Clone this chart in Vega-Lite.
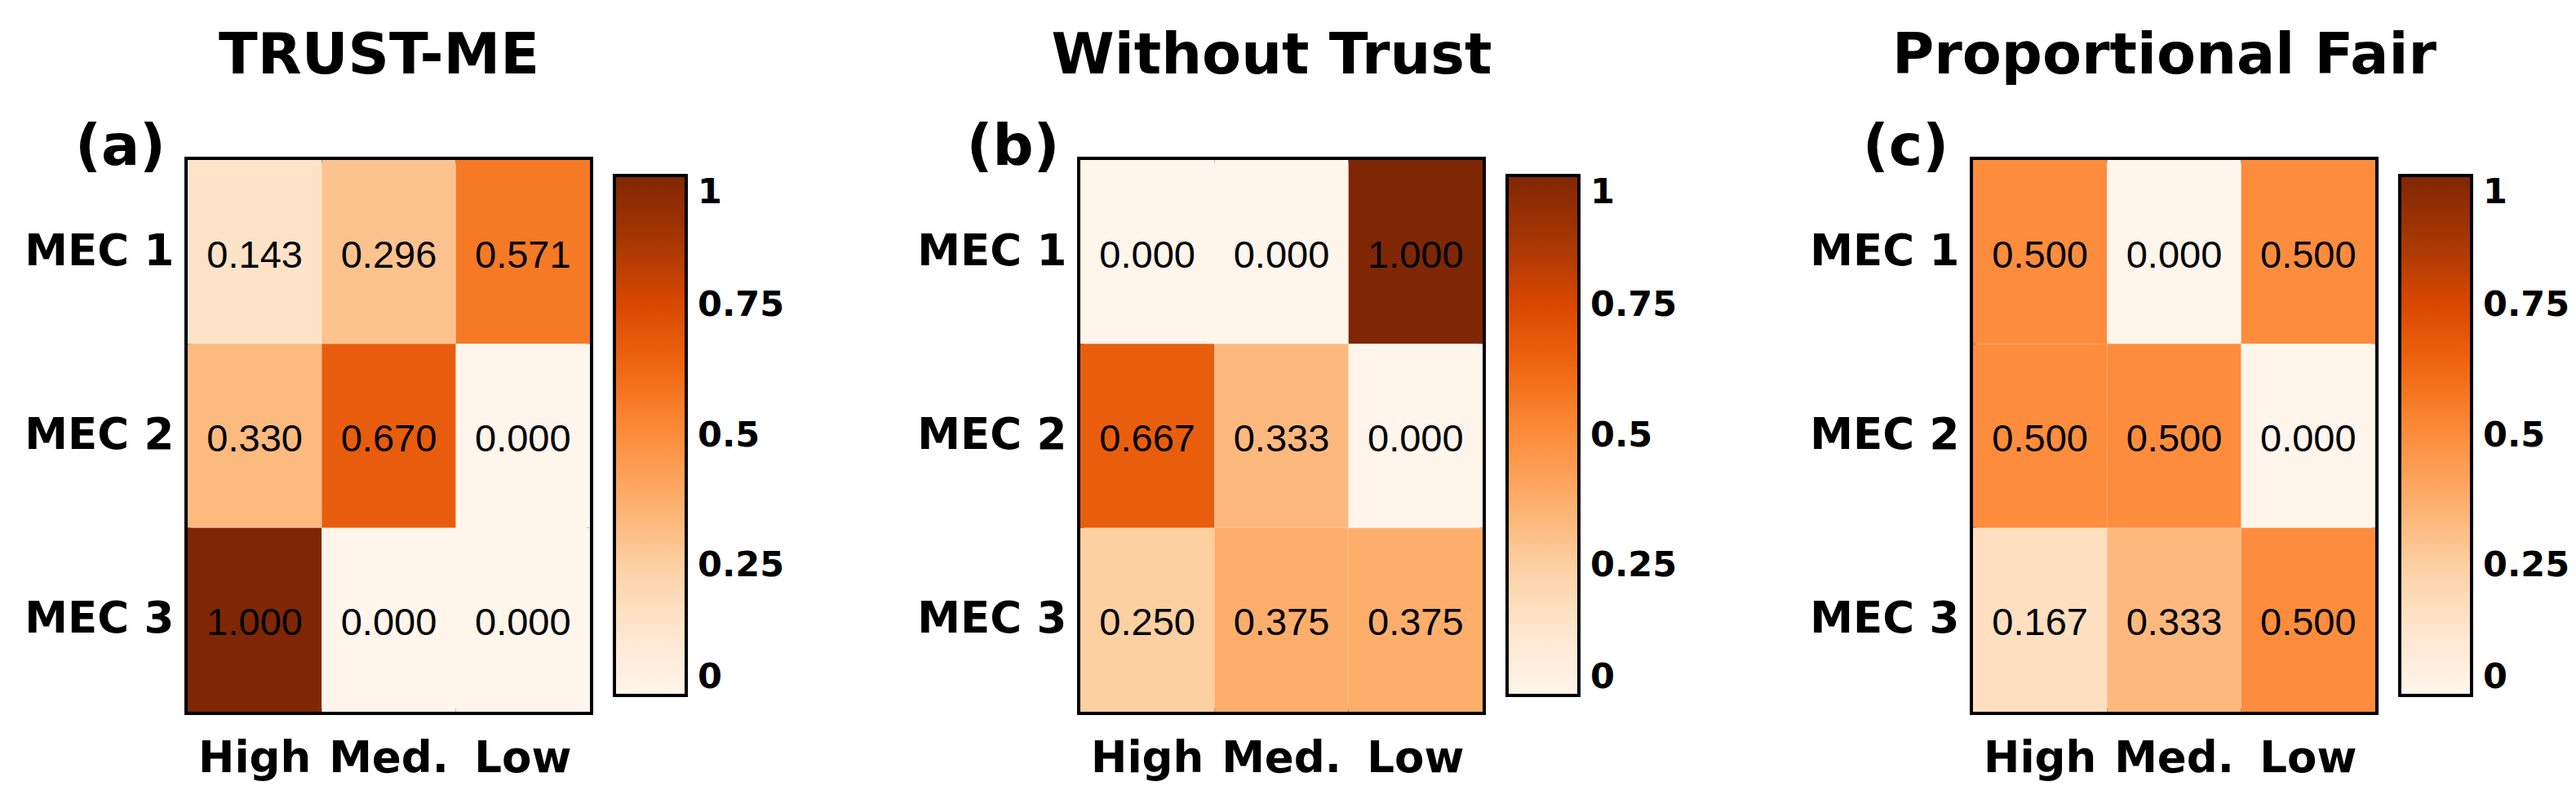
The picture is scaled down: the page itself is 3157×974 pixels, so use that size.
{
  "$schema": "https://vega.github.io/schema/vega-lite/v6.json",
  "padding": {"left": 25, "top": 30, "right": 5, "bottom": 5},
  "background": "white",
  "datasets": {
    "cells": [
      {"panel": "a", "mec": "MEC 1", "level": "High", "value": 0.143},
      {"panel": "a", "mec": "MEC 1", "level": "Med.", "value": 0.296},
      {"panel": "a", "mec": "MEC 1", "level": "Low", "value": 0.571},
      {"panel": "a", "mec": "MEC 2", "level": "High", "value": 0.330},
      {"panel": "a", "mec": "MEC 2", "level": "Med.", "value": 0.670},
      {"panel": "a", "mec": "MEC 2", "level": "Low", "value": 0.000},
      {"panel": "a", "mec": "MEC 3", "level": "High", "value": 1.000},
      {"panel": "a", "mec": "MEC 3", "level": "Med.", "value": 0.000},
      {"panel": "a", "mec": "MEC 3", "level": "Low", "value": 0.000},
      {"panel": "b", "mec": "MEC 1", "level": "High", "value": 0.000},
      {"panel": "b", "mec": "MEC 1", "level": "Med.", "value": 0.000},
      {"panel": "b", "mec": "MEC 1", "level": "Low", "value": 1.000},
      {"panel": "b", "mec": "MEC 2", "level": "High", "value": 0.667},
      {"panel": "b", "mec": "MEC 2", "level": "Med.", "value": 0.333},
      {"panel": "b", "mec": "MEC 2", "level": "Low", "value": 0.000},
      {"panel": "b", "mec": "MEC 3", "level": "High", "value": 0.250},
      {"panel": "b", "mec": "MEC 3", "level": "Med.", "value": 0.375},
      {"panel": "b", "mec": "MEC 3", "level": "Low", "value": 0.375},
      {"panel": "c", "mec": "MEC 1", "level": "High", "value": 0.500},
      {"panel": "c", "mec": "MEC 1", "level": "Med.", "value": 0.000},
      {"panel": "c", "mec": "MEC 1", "level": "Low", "value": 0.500},
      {"panel": "c", "mec": "MEC 2", "level": "High", "value": 0.500},
      {"panel": "c", "mec": "MEC 2", "level": "Med.", "value": 0.500},
      {"panel": "c", "mec": "MEC 2", "level": "Low", "value": 0.000},
      {"panel": "c", "mec": "MEC 3", "level": "High", "value": 0.167},
      {"panel": "c", "mec": "MEC 3", "level": "Med.", "value": 0.333},
      {"panel": "c", "mec": "MEC 3", "level": "Low", "value": 0.500}
    ]
  },
  "bounds": "flush",
  "spacing": 601,
  "resolve": {"scale": {"color": "independent"}, "legend": {"color": "independent"}},
  "hconcat": [
    {
      "title": {"text": "TRUST-ME", "dx": -12},
      "width": 493, "height": 676,
      "data": {"name": "cells"},
      "transform": [{"filter": "datum.panel === 'a'"}],
      "encoding": {
        "x": {"field": "level", "type": "nominal", "sort": ["High", "Med.", "Low"], "scale": {"paddingInner": 0, "paddingOuter": 0}, "axis": {"title": null}},
        "y": {"field": "mec", "type": "nominal", "sort": ["MEC 1", "MEC 2", "MEC 3"], "scale": {"paddingInner": 0, "paddingOuter": 0}, "axis": {"title": "(a)"}}
      },
      "layer": [
        {"mark": {"type": "rect"}, "encoding": {"color": {"field": "value", "type": "quantitative", "scale": {"domain": [0, 0.125, 0.25, 0.375, 0.5, 0.625, 0.75, 0.875, 1], "range": ["#fff5eb", "#fee6ce", "#fdd0a2", "#fdae6b", "#fd8d3c", "#f16913", "#d94801", "#a63603", "#7f2704"], "interpolate": "rgb"}, "legend": {"orient": "none", "legendX": 523, "legendY": 19, "title": null, "direction": "vertical", "values": [0, 0.25, 0.5, 0.75, 1], "labelExpr": "'' + datum.value", "labelOffset": 14}}}},
        {"mark": {"type": "text", "font": "Liberation Sans", "fontSize": 47, "baseline": "middle", "color": "black", "dy": 5}, "encoding": {"text": {"field": "value", "type": "quantitative", "format": ".3f"}}}
      ]
    },
    {
      "title": {"text": "Without Trust", "dx": -12},
      "width": 493, "height": 676,
      "data": {"name": "cells"},
      "transform": [{"filter": "datum.panel === 'b'"}],
      "encoding": {
        "x": {"field": "level", "type": "nominal", "sort": ["High", "Med.", "Low"], "scale": {"paddingInner": 0, "paddingOuter": 0}, "axis": {"title": null}},
        "y": {"field": "mec", "type": "nominal", "sort": ["MEC 1", "MEC 2", "MEC 3"], "scale": {"paddingInner": 0, "paddingOuter": 0}, "axis": {"title": "(b)"}}
      },
      "layer": [
        {"mark": {"type": "rect"}, "encoding": {"color": {"field": "value", "type": "quantitative", "scale": {"domain": [0, 0.125, 0.25, 0.375, 0.5, 0.625, 0.75, 0.875, 1], "range": ["#fff5eb", "#fee6ce", "#fdd0a2", "#fdae6b", "#fd8d3c", "#f16913", "#d94801", "#a63603", "#7f2704"], "interpolate": "rgb"}, "legend": {"orient": "none", "legendX": 523, "legendY": 19, "title": null, "direction": "vertical", "values": [0, 0.25, 0.5, 0.75, 1], "labelExpr": "'' + datum.value", "labelOffset": 14}}}},
        {"mark": {"type": "text", "font": "Liberation Sans", "fontSize": 47, "baseline": "middle", "color": "black", "dy": 5}, "encoding": {"text": {"field": "value", "type": "quantitative", "format": ".3f"}}}
      ]
    },
    {
      "title": {"text": "Proportional Fair", "dx": -12},
      "width": 493, "height": 676,
      "data": {"name": "cells"},
      "transform": [{"filter": "datum.panel === 'c'"}],
      "encoding": {
        "x": {"field": "level", "type": "nominal", "sort": ["High", "Med.", "Low"], "scale": {"paddingInner": 0, "paddingOuter": 0}, "axis": {"title": null}},
        "y": {"field": "mec", "type": "nominal", "sort": ["MEC 1", "MEC 2", "MEC 3"], "scale": {"paddingInner": 0, "paddingOuter": 0}, "axis": {"title": "(c)"}}
      },
      "layer": [
        {"mark": {"type": "rect"}, "encoding": {"color": {"field": "value", "type": "quantitative", "scale": {"domain": [0, 0.125, 0.25, 0.375, 0.5, 0.625, 0.75, 0.875, 1], "range": ["#fff5eb", "#fee6ce", "#fdd0a2", "#fdae6b", "#fd8d3c", "#f16913", "#d94801", "#a63603", "#7f2704"], "interpolate": "rgb"}, "legend": {"orient": "none", "legendX": 523, "legendY": 19, "title": null, "direction": "vertical", "values": [0, 0.25, 0.5, 0.75, 1], "labelExpr": "'' + datum.value", "labelOffset": 14}}}},
        {"mark": {"type": "text", "font": "Liberation Sans", "fontSize": 47, "baseline": "middle", "color": "black", "dy": 5}, "encoding": {"text": {"field": "value", "type": "quantitative", "format": ".3f"}}}
      ]
    }
  ],
  "config": {
    "view": {"stroke": "black", "strokeWidth": 8},
    "font": "DejaVu Sans",
    "axis": {"domain": false, "ticks": false, "tickSize": 0, "grid": false, "labelAngle": 0, "labelLimit": 0, "labelFont": "DejaVu Sans", "labelFontWeight": "bold", "labelFontSize": 53, "labelColor": "black"},
    "axisX": {"labelPadding": 31},
    "axisY": {"labelPadding": 17, "titleAngle": 0, "titleX": -83, "titleY": 5, "titleAlign": "center", "titleBaseline": "alphabetic", "titleFont": "DejaVu Sans", "titleFontSize": 70, "titleFontWeight": "bold", "titleColor": "black"},
    "title": {"font": "DejaVu Sans", "fontSize": 70, "fontWeight": "bold", "color": "black", "anchor": "middle", "frame": "group", "baseline": "alphabetic", "offset": 40},
    "legend": {"gradientLength": 637, "gradientThickness": 88, "gradientStrokeColor": "black", "gradientStrokeWidth": 4, "labelFont": "DejaVu Sans", "labelFontWeight": "bold", "labelFontSize": 43, "labelColor": "black", "labelBaseline": "middle", "labelOverlap": false, "labelLimit": 0, "padding": 0}
  }
}
